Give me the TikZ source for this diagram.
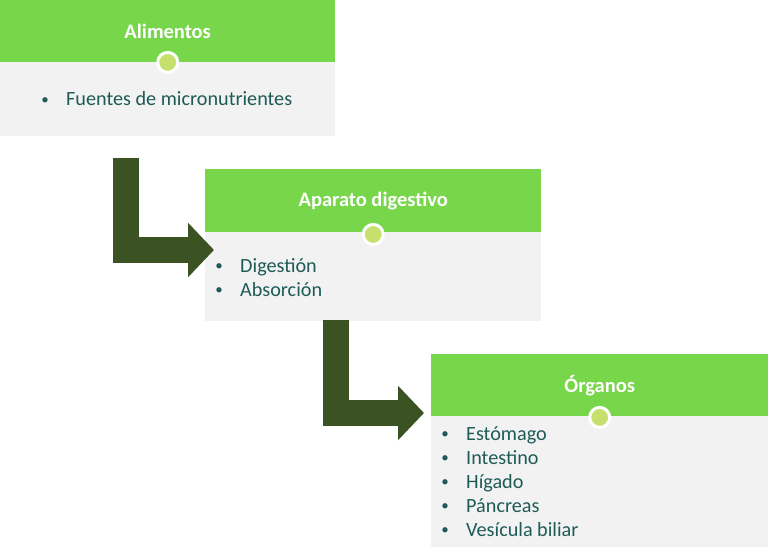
\documentclass[tikz,border=0pt]{standalone}
\usepackage{fontspec}
\setmainfont{Carlito}
\usepackage{xcolor}
\usepackage{tikz}
\usetikzlibrary{arrows.meta}

\definecolor{verdecab}{HTML}{78D64B}
\definecolor{grisfondo}{HTML}{F2F2F2}
\definecolor{puntoverde}{HTML}{C5E06C}
\definecolor{verdeoscuro}{HTML}{3B5323}
\definecolor{textoverde}{HTML}{1E5B57}

\newcommand{\vineta}{\makebox[0pt][c]{\raisebox{1.5pt}{\fontsize{15}{15}\selectfont\textbullet}}\hspace{21pt}}

\begin{document}
\begin{tikzpicture}[x=1pt, y=-1pt,
  cabecera/.style={fill=verdecab, anchor=north west, inner sep=0pt, text=white,
    font=\bfseries\fontsize{20.5}{24}\selectfont},
  cuerpo/.style={fill=grisfondo, anchor=north west, inner sep=0pt},
  punto/.style={circle, fill=puntoverde, draw=white, line width=3pt,
    minimum size=20pt, inner sep=0pt},
  item/.style={anchor=base west, inner sep=0pt, text=textoverde,
    font=\fontsize{20.2}{24}\selectfont},
  flecha/.style={draw=verdeoscuro, line width=26pt, line join=miter,
    -{Triangle[length=26pt,width=53pt]}}]

\useasboundingbox (0,0) rectangle (768,556);

% Caja 1
\node[cuerpo, minimum width=335pt, minimum height=74pt] (cu1) at (0,62) {};
\node[cabecera, minimum width=335pt, minimum height=62pt] (ca1) at (0,0) {Alimentos};
\node[punto] (p1) at (ca1.south) {};
\node[item] (f1) at (45,106) {\vineta Fuentes de micronutrientes};

% Caja 2
\node[cuerpo, minimum width=336pt, minimum height=89pt] (cu2) at (205,232) {};
\node[cabecera, minimum width=336pt, minimum height=63pt] (ca2) at (205,169) {Aparato digestivo};
\node[punto] (p2) at ([yshift=-2pt]ca2.south) {};
\node[item] (d1) at (219,272) {\vineta Digestión};
\node[item] (d2) at (219,296) {\vineta Absorción};

% Caja 3
\node[cuerpo, minimum width=337pt, minimum height=131pt] (cu3) at (431,416) {};
\node[cabecera, minimum width=337pt, minimum height=62pt] (ca3) at (431,354) {Órganos};
\node[punto] (p3) at ([yshift=-1pt]ca3.south) {};
\node[item] (o1) at (445,440) {\vineta Estómago};
\node[item] (o2) at (445,464) {\vineta Intestino};
\node[item] (o3) at (445,488) {\vineta Hígado};
\node[item] (o4) at (445,512) {\vineta Páncreas};
\node[item] (o5) at (445,536) {\vineta Vesícula biliar};

% flechas
\coordinate (a1) at (126,158);
\coordinate (b1) at (214,250);
\draw[flecha] (a1) |- (b1);

\coordinate (a2) at (335.5,320);
\coordinate (b2) at (424,413);
\draw[flecha] (a2) |- (b2);

\end{tikzpicture}
\end{document}
